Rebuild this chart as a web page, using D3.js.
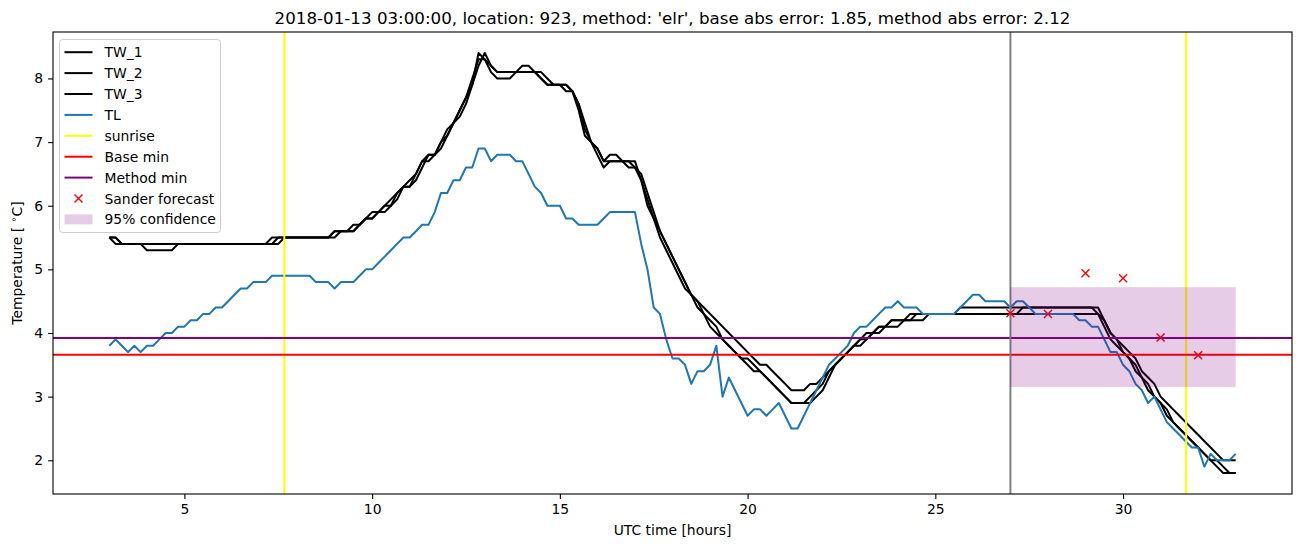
<!DOCTYPE html>
<html>
<head>
<meta charset="utf-8">
<script src="https://cdn.jsdelivr.net/npm/d3@7"></script>
<style>
  body { margin: 0; background: #fff; }
  text { font-family: "DejaVu Sans", sans-serif; fill: #000; }
</style>
</head>
<body>
<div id="chart"></div>
<script>
// samples every 10 minutes starting at 03:00 (hours since 00:00 UTC)
const startHour = 3, stepHour = 1 / 6

const TW_1 = [
  5.5, 5.5, 5.4, 5.4, 5.4, 5.4,
  5.4, 5.4, 5.4, 5.4, 5.4, 5.4,
  5.4, 5.4, 5.4, 5.4, 5.4, 5.4,
  5.4, 5.4, 5.4, 5.4, 5.4, 5.4,
  5.4, 5.4, 5.5, 5.5, 5.5, 5.5,
  5.5, 5.5, 5.5, 5.5, 5.5, 5.5,
  5.6, 5.6, 5.6, 5.6, 5.7, 5.8,
  5.8, 5.9, 6.0, 6.0, 6.2, 6.3,
  6.3, 6.5, 6.7, 6.8, 6.8, 7.0,
  7.2, 7.3, 7.5, 7.7, 7.9, 8.2,
  8.4, 8.2, 8.1, 8.1, 8.1, 8.1,
  8.1, 8.1, 8.1, 8.0, 7.9, 7.9,
  7.9, 7.8, 7.8, 7.5, 7.1, 7.0,
  6.8, 6.6, 6.7, 6.7, 6.7, 6.7,
  6.6, 6.4, 6.0, 5.8, 5.5, 5.3,
  5.1, 4.9, 4.7, 4.6, 4.4, 4.3,
  4.1, 4.0, 3.9, 3.8, 3.7, 3.6,
  3.5, 3.4, 3.4, 3.3, 3.2, 3.1,
  3.0, 2.9, 2.9, 2.9, 3.0, 3.1,
  3.2, 3.4, 3.5, 3.6, 3.7, 3.8,
  3.9, 4.0, 4.0, 4.1, 4.1, 4.2,
  4.2, 4.2, 4.2, 4.3, 4.3, 4.3,
  4.3, 4.3, 4.3, 4.3, 4.3, 4.3,
  4.3, 4.3, 4.3, 4.3, 4.3, 4.3,
  4.3, 4.3, 4.4, 4.4, 4.4, 4.4,
  4.4, 4.4, 4.4, 4.4, 4.4, 4.4,
  4.4, 4.4, 4.3, 4.1, 3.9, 3.8,
  3.7, 3.6, 3.4, 3.3, 3.1, 3.0,
  2.9, 2.7, 2.6, 2.5, 2.4, 2.3,
  2.2, 2.1, 2.0, 1.9, 1.8, 1.8,
  1.8
]

const TW_2 = [
  5.5, 5.4, 5.4, 5.4, 5.4, 5.4,
  5.3, 5.3, 5.3, 5.3, 5.3, 5.4,
  5.4, 5.4, 5.4, 5.4, 5.4, 5.4,
  5.4, 5.4, 5.4, 5.4, 5.4, 5.4,
  5.4, 5.4, 5.4, 5.4, 5.5, 5.5,
  5.5, 5.5, 5.5, 5.5, 5.5, 5.5,
  5.5, 5.6, 5.6, 5.6, 5.7, 5.8,
  5.8, 5.9, 5.9, 6.0, 6.1, 6.3,
  6.3, 6.4, 6.6, 6.8, 6.8, 6.9,
  7.1, 7.3, 7.4, 7.6, 7.9, 8.4,
  8.3, 8.1, 8.0, 8.0, 8.0, 8.1,
  8.2, 8.2, 8.1, 8.0, 7.9, 7.9,
  7.9, 7.9, 7.8, 7.6, 7.2, 7.0,
  6.9, 6.7, 6.8, 6.8, 6.7, 6.7,
  6.7, 6.4, 6.1, 5.8, 5.6, 5.4,
  5.2, 5.0, 4.8, 4.6, 4.5, 4.3,
  4.2, 4.1, 3.9, 3.8, 3.7, 3.6,
  3.6, 3.5, 3.4, 3.3, 3.2, 3.1,
  3.0, 2.9, 2.9, 2.9, 2.9, 3.0,
  3.1, 3.3, 3.5, 3.6, 3.7, 3.8,
  3.8, 3.9, 4.0, 4.0, 4.1, 4.1,
  4.1, 4.2, 4.2, 4.2, 4.2, 4.3,
  4.3, 4.3, 4.3, 4.3, 4.4, 4.4,
  4.4, 4.4, 4.4, 4.4, 4.4, 4.4,
  4.4, 4.4, 4.4, 4.4, 4.4, 4.4,
  4.4, 4.4, 4.4, 4.4, 4.4, 4.4,
  4.4, 4.4, 4.4, 4.2, 4.0, 3.9,
  3.7, 3.6, 3.5, 3.3, 3.2, 3.0,
  2.9, 2.8, 2.6, 2.5, 2.4, 2.3,
  2.2, 2.1, 2.0, 2.0, 1.9, 1.8,
  1.8
]

const TW_3 = [
  5.5, 5.5, 5.4, 5.4, 5.4, 5.4,
  5.4, 5.4, 5.4, 5.4, 5.4, 5.4,
  5.4, 5.4, 5.4, 5.4, 5.4, 5.4,
  5.4, 5.4, 5.4, 5.4, 5.4, 5.4,
  5.4, 5.4, 5.4, 5.5, 5.5, 5.5,
  5.5, 5.5, 5.5, 5.5, 5.5, 5.5,
  5.6, 5.6, 5.6, 5.7, 5.7, 5.8,
  5.9, 5.9, 6.0, 6.1, 6.2, 6.3,
  6.4, 6.5, 6.7, 6.7, 6.8, 7.0,
  7.1, 7.3, 7.5, 7.7, 8.0, 8.3,
  8.3, 8.2, 8.1, 8.1, 8.1, 8.1,
  8.1, 8.1, 8.1, 8.1, 8.0, 7.9,
  7.9, 7.9, 7.8, 7.6, 7.3, 7.0,
  6.9, 6.7, 6.7, 6.7, 6.7, 6.6,
  6.6, 6.5, 6.2, 5.9, 5.6, 5.4,
  5.2, 5.0, 4.8, 4.6, 4.5, 4.4,
  4.3, 4.2, 4.1, 4.0, 3.9, 3.8,
  3.7, 3.6, 3.5, 3.5, 3.4, 3.3,
  3.2, 3.1, 3.1, 3.1, 3.2, 3.2,
  3.3, 3.4, 3.5, 3.6, 3.7, 3.8,
  3.9, 3.9, 4.0, 4.1, 4.1, 4.2,
  4.2, 4.2, 4.3, 4.3, 4.3, 4.3,
  4.3, 4.3, 4.3, 4.3, 4.3, 4.3,
  4.3, 4.3, 4.3, 4.3, 4.3, 4.3,
  4.3, 4.3, 4.3, 4.3, 4.3, 4.3,
  4.3, 4.3, 4.3, 4.3, 4.3, 4.3,
  4.3, 4.3, 4.3, 4.2, 4.0, 3.9,
  3.8, 3.7, 3.6, 3.4, 3.3, 3.2,
  3.0, 2.9, 2.8, 2.7, 2.6, 2.5,
  2.4, 2.3, 2.2, 2.1, 2.0, 2.0,
  2.0
]

const TL = [
  3.8, 3.9, 3.8, 3.7, 3.8, 3.7,
  3.8, 3.8, 3.9, 4.0, 4.0, 4.1,
  4.1, 4.2, 4.2, 4.3, 4.3, 4.4,
  4.4, 4.5, 4.6, 4.7, 4.7, 4.8,
  4.8, 4.8, 4.9, 4.9, 4.9, 4.9,
  4.9, 4.9, 4.9, 4.8, 4.8, 4.8,
  4.7, 4.8, 4.8, 4.8, 4.9, 5.0,
  5.0, 5.1, 5.2, 5.3, 5.4, 5.5,
  5.5, 5.6, 5.7, 5.7, 5.9, 6.2,
  6.2, 6.4, 6.4, 6.6, 6.6, 6.9,
  6.9, 6.7, 6.8, 6.8, 6.8, 6.7,
  6.7, 6.5, 6.3, 6.2, 6.0, 6.0,
  6.0, 5.8, 5.8, 5.7, 5.7, 5.7,
  5.7, 5.8, 5.9, 5.9, 5.9, 5.9,
  5.9, 5.4, 5.0, 4.4, 4.3, 3.9,
  3.6, 3.6, 3.5, 3.2, 3.4, 3.4,
  3.5, 3.8, 3.0, 3.3, 3.1, 2.9,
  2.7, 2.8, 2.8, 2.7, 2.8, 2.9,
  2.7, 2.5, 2.5, 2.7, 2.9, 3.1,
  3.3, 3.5, 3.6, 3.7, 3.8, 4.0,
  4.1, 4.1, 4.2, 4.3, 4.4, 4.4,
  4.5, 4.4, 4.4, 4.4, 4.3, 4.3,
  4.3, 4.3, 4.3, 4.3, 4.4, 4.5,
  4.6, 4.6, 4.5, 4.5, 4.5, 4.5,
  4.4, 4.5, 4.5, 4.4, 4.3, 4.3,
  4.3, 4.3, 4.3, 4.3, 4.3, 4.2,
  4.2, 4.1, 4.1, 3.9, 3.7, 3.7,
  3.5, 3.4, 3.2, 3.1, 2.9, 3.0,
  2.8, 2.6, 2.5, 2.4, 2.3, 2.2,
  2.2, 1.9, 2.1, 2.0, 2.0, 2.0,
  2.1
]

const sunriseHours = [7.66, 31.68]
const forecastStart = 27
const baseMin = 3.66
const methodMin = 3.92
const sanderHours = [27, 28, 29, 30, 31, 32]
const sanderTemp = [4.31, 4.30, 4.94, 4.86, 3.93, 3.65]
const confLow = 3.15, confHigh = 4.72, confEnd = 33
const xTicks = [5, 10, 15, 20, 25, 30]
const yTicks = [2, 3, 4, 5, 6, 7, 8]
const title = "2018-01-13 03:00:00, location: 923, method: 'elr', base abs error: 1.85, method abs error: 2.12"

// ----------------------------------------------------------

var margin = { top: 32, right: 10, bottom: 53, left: 53 },
    width = 1302 - margin.left - margin.right,
    height = 547 - margin.top - margin.bottom;

var svg = d3.select("#chart")
    .append("svg")
    .attr("width", 1302)
    .attr("height", 547)
    .style("background", "#fff")

var g = svg.append("g")
    .attr("transform", "translate(" + margin.left + "," + margin.top + ")");

const series = [
    { name: "TW_1", values: TW_1, color: "#000000" },
    { name: "TW_2", values: TW_2, color: "#000000" },
    { name: "TW_3", values: TW_3, color: "#000000" },
    { name: "TL", values: TL, color: "#1f77b4" }
]

// axis limits with matplotlib-like 5% margins
var allVals = [].concat(TW_1, TW_2, TW_3, TL)
var yMin = d3.min(allVals), yMax = d3.max(allVals)
var yPad = (yMax - yMin) * 0.05
var xEndHour = startHour + (TL.length - 1) * stepHour
var xPad = (xEndHour - startHour) * 0.05

var x = d3.scaleLinear().domain([startHour - xPad, xEndHour + xPad]).range([0, width])
var y = d3.scaleLinear().domain([yMin - yPad, yMax + yPad]).range([height, 0])

var line = d3.line()
    .x((d, i) => x(startHour + i * stepHour))
    .y(d => y(d))

var plot = g.append("g")

series.forEach(s => {
    plot.append("path")
        .datum(s.values)
        .attr("fill", "none")
        .attr("stroke", s.color)
        .attr("stroke-width", 2)
        .attr("stroke-linejoin", "round")
        .attr("d", line)
})

sunriseHours.forEach(h => {
    plot.append("line")
        .attr("x1", x(h)).attr("x2", x(h))
        .attr("y1", 0).attr("y2", height)
        .attr("stroke", "yellow").attr("stroke-width", 2)
})

plot.append("line")
    .attr("x1", 0).attr("x2", width)
    .attr("y1", y(baseMin)).attr("y2", y(baseMin))
    .attr("stroke", "red").attr("stroke-width", 2)

plot.append("line")
    .attr("x1", 0).attr("x2", width)
    .attr("y1", y(methodMin)).attr("y2", y(methodMin))
    .attr("stroke", "purple").attr("stroke-width", 2)

plot.append("line")
    .attr("x1", x(forecastStart)).attr("x2", x(forecastStart))
    .attr("y1", 0).attr("y2", height)
    .attr("stroke", "gray").attr("stroke-width", 2)

// Sander forecast crosses
sanderHours.forEach((h, i) => {
    var cx = x(h), cy = y(sanderTemp[i]), r = 4
    plot.append("path")
        .attr("d", "M" + (cx - r) + "," + (cy - r) + "L" + (cx + r) + "," + (cy + r) +
                   "M" + (cx - r) + "," + (cy + r) + "L" + (cx + r) + "," + (cy - r))
        .attr("stroke", "red").attr("stroke-width", 1.4).attr("fill", "none")
})

// 95% confidence band
plot.append("rect")
    .attr("x", x(forecastStart))
    .attr("y", y(confHigh))
    .attr("width", x(confEnd) - x(forecastStart))
    .attr("height", y(confLow) - y(confHigh))
    .attr("fill", "purple")
    .attr("fill-opacity", 0.2)

// axes
var xAxis = d3.axisBottom(x).tickValues(xTicks).tickSize(4.9).tickPadding(4.9).tickFormat(d3.format("d"))
var yAxis = d3.axisLeft(y).tickValues(yTicks).tickSize(4.9).tickPadding(4.9).tickFormat(d3.format("d"))

var xAxisGroup = g.append("g").attr("transform", "translate(0," + height + ")").call(xAxis)
var yAxisGroup = g.append("g").call(yAxis)
;[xAxisGroup, yAxisGroup].forEach(a => {
    a.select(".domain").remove()
    a.selectAll("line").attr("stroke", "#000").attr("stroke-width", 1.1)
    a.selectAll("text").style("font-family", "DejaVu Sans").style("font-size", "13.9px").attr("fill", "#000")
})

// frame
g.append("rect")
    .attr("width", width).attr("height", height)
    .attr("fill", "none").attr("stroke", "#000").attr("stroke-width", 1.1)

// labels
svg.append("text")
    .attr("x", margin.left + width / 2).attr("y", 24)
    .attr("text-anchor", "middle")
    .style("font-size", "16.7px")
    .text(title)

svg.append("text")
    .attr("x", margin.left + width / 2).attr("y", 535)
    .attr("text-anchor", "middle")
    .style("font-size", "13.9px")
    .text("UTC time [hours]")

var ylab = svg.append("text")
    .attr("transform", "translate(22," + (margin.top + height / 2) + ") rotate(-90)")
    .attr("text-anchor", "middle")
    .style("font-size", "13.9px")
ylab.append("tspan").text("Temperature [ ")
ylab.append("tspan").attr("dy", -5).style("font-size", "9.5px").text("∘")
ylab.append("tspan").attr("dy", 5).text("C]")

// legend
var legend = svg.append("g").attr("transform", "translate(59.5,39.5)")
legend.append("rect")
    .attr("width", 161).attr("height", 193).attr("rx", 3)
    .attr("fill", "#fff").attr("fill-opacity", 0.8)
    .attr("stroke", "#cccccc").attr("stroke-width", 1)

const legendItems = [
    { label: "TW_1", type: "line", color: "#000000" },
    { label: "TW_2", type: "line", color: "#000000" },
    { label: "TW_3", type: "line", color: "#000000" },
    { label: "TL", type: "line", color: "#1f77b4" },
    { label: "sunrise", type: "line", color: "yellow" },
    { label: "Base min", type: "line", color: "red" },
    { label: "Method min", type: "line", color: "purple" },
    { label: "Sander forecast", type: "cross", color: "red" },
    { label: "95% confidence", type: "patch", color: "purple" }
]

legendItems.forEach((it, i) => {
    var cy = 12.7 + i * 20.9
    var row = legend.append("g")
    if (it.type == "line") {
        row.append("line")
            .attr("x1", 5).attr("x2", 33).attr("y1", cy).attr("y2", cy)
            .attr("stroke", it.color).attr("stroke-width", 2)
    } else if (it.type == "cross") {
        var r = 4
        row.append("path")
            .attr("d", "M" + (19 - r) + "," + (cy - r) + "L" + (19 + r) + "," + (cy + r) +
                       "M" + (19 - r) + "," + (cy + r) + "L" + (19 + r) + "," + (cy - r))
            .attr("stroke", it.color).attr("stroke-width", 1.4)
    } else {
        row.append("rect")
            .attr("x", 5).attr("y", cy - 5).attr("width", 28).attr("height", 10)
            .attr("fill", it.color).attr("fill-opacity", 0.2)
    }
    row.append("text")
        .attr("x", 45).attr("y", cy + 5)
        .style("font-size", "13.9px")
        .text(it.label)
})
</script>
</body>
</html>
